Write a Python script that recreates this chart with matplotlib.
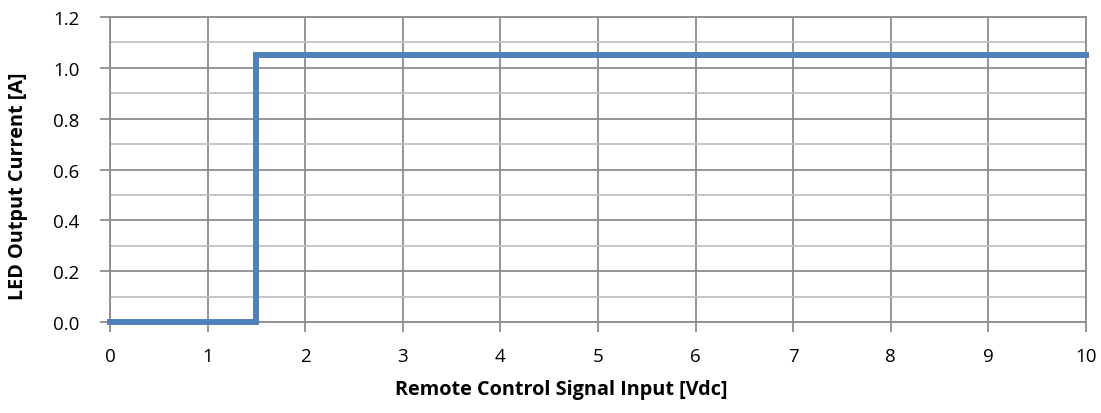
import matplotlib
matplotlib.use('Agg')
import matplotlib.pyplot as plt
from matplotlib.ticker import MultipleLocator, FormatStrFormatter

# remote control signal input vs LED output current
volts = [0, 1.5, 1.5, 10]
current = [0, 0, 1.05, 1.05]

plt.rcParams['font.family'] = ['Open Sans', 'DejaVu Sans']

fig = plt.figure(figsize=(11.01, 4.14), dpi=100)
ax = fig.add_axes([0.0999, 0.2198, 0.8865, 0.7367])

ax.plot(volts, current, color='#4F81BD', linewidth=4.3, solid_joinstyle='miter', zorder=3, clip_on=False)

ax.set_xlim(0, 10)
ax.set_ylim(0, 1.2)
ax.xaxis.set_major_locator(MultipleLocator(1))
ax.yaxis.set_major_locator(MultipleLocator(0.2))
ax.yaxis.set_minor_locator(MultipleLocator(0.1))
ax.yaxis.set_major_formatter(FormatStrFormatter('%.1f'))

ax.grid(which='major', color='#8C8C8C', linewidth=1.3)
ax.grid(which='minor', axis='y', color='#C0C0C0', linewidth=1.3)
ax.set_axisbelow(True)
for s in ax.spines.values():
    s.set_color('#8C8C8C')
    s.set_linewidth(1.3)

ax.tick_params(which='major', direction='out', length=7, width=1.3, color='#8C8C8C',
               labelsize=13.5)
ax.tick_params(axis='y', pad=15)
ax.tick_params(axis='x', pad=11)
ax.tick_params(which='minor', length=0)

ax.set_xlabel('Remote Control Signal Input [Vdc]', fontsize=14.3, fontweight='bold')
ax.set_ylabel('LED Output Current [A]', fontsize=14.3, fontweight='bold')
ax.xaxis.set_label_coords(0.462, -0.187)
ax.yaxis.set_label_coords(-0.084, 0.449)

fig.savefig('out.png', dpi=100)
